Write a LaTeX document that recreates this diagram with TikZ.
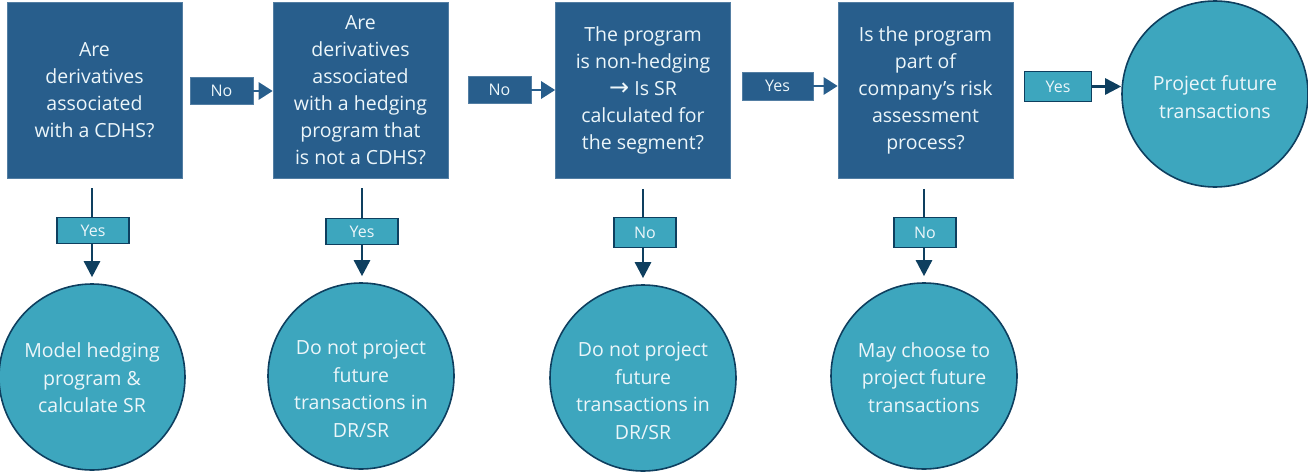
\documentclass[tikz,border=0pt]{standalone}
\usepackage{fontspec}
\setmainfont{Open Sans}
\newfontfamily\arrowfont{DejaVu Sans}
\usetikzlibrary{arrows.meta}
\definecolor{boxblue}{RGB}{40,94,140}
\definecolor{teal}{RGB}{61,166,190}
\definecolor{navy}{RGB}{14,63,95}
\definecolor{txt}{RGB}{236,246,250}
\tikzset{
  qbox/.style={draw=boxblue!80!white, line width=0.6pt, fill=boxblue, minimum width=175pt, minimum height=176pt, inner sep=0pt, text=txt, align=center, font=\fontsize{19.5}{27}\selectfont},
  endc/.style={circle, draw=navy, line width=1.6pt, fill=teal, minimum size=186pt, inner sep=0pt},
  ctext/.style={text=txt, align=center, font=\fontsize{19.5}{27.5}\selectfont},
  hlab/.style={fill=boxblue, draw=boxblue!80!white, line width=0.5pt, text=txt, inner sep=0pt, font=\fontsize{16}{18}\selectfont},
  vlab/.style={fill=teal, draw=navy, line width=1.6pt, text=txt, inner sep=0pt, font=\fontsize{16}{18}\selectfont},
  harrow/.style={draw=boxblue, line width=2.8pt, -{Triangle[width=17pt,length=14pt]}},
  darrow/.style={draw=navy, line width=2.6pt, -{Triangle[width=16pt,length=16pt]}},
  dline/.style={draw=navy, line width=2.6pt},
}
\begin{document}
\begin{tikzpicture}[x=1pt,y=-1pt]
\useasboundingbox (0,0) rectangle (1308,471);
% question boxes
\node[qbox] (b1) at (94.5,90) {Are\\derivatives\\associated\\with a CDHS?};
\node[qbox] (b2) at (360.5,90) {Are\\derivatives\\associated\\with a hedging\\program that\\is not a CDHS?};
\node[qbox] (b3) at (643,90.5) {The program\\is non-hedging\\{\arrowfont\fontsize{24}{27}\selectfont →} Is SR\\calculated for\\the segment?};
\node[qbox] (b4) at (925.5,90.5) {Is the program\\part of\\company's risk\\assessment\\process?};
% end circles
\node[endc] (c1) at (92,377) {};
\node[ctext] at (92,378) {Model hedging\\program \&\\calculate SR};
\node[endc] (c2) at (361,376) {};
\node[ctext] at (361,389) {Do not project\\future\\transactions in\\DR/SR};
\node[endc] (c3) at (643,378) {};
\node[ctext] at (643,391) {Do not project\\future\\transactions in\\DR/SR};
\node[endc] (c4) at (924,376) {};
\node[ctext] at (924,377.5) {May choose to\\project future\\transactions};
\node[endc] (c5) at (1215,94) {};
\node[ctext] at (1215,97) {Project future\\transactions};
% horizontal labels
\node[hlab, minimum width=63pt, minimum height=27pt] (n1) at (221.5,91) {No};
\node[hlab, minimum width=63pt, minimum height=27pt] (n2) at (499.5,90) {No};
\node[hlab, minimum width=71pt, minimum height=28pt] (y3) at (777.5,86) {Yes};
\node[vlab, minimum width=67pt, minimum height=30pt] (y4) at (1058,86.5) {Yes};
\draw[harrow] (n1.east) -- (n1.east -| b2.west);
\draw[harrow] (n2.east) -- (n2.east -| b3.west);
\draw[harrow] (y3.east) -- (y3.east -| b4.west);
\draw[darrow] (y4.east) -- (y4.east -| c5.west);
% vertical labels
\node[vlab, minimum width=72pt, minimum height=26pt] (v1) at (93,230.5) {Yes};
\node[vlab, minimum width=72pt, minimum height=26pt] (v2) at (362,231.5) {Yes};
\node[vlab, minimum width=62pt, minimum height=30pt] (v3) at (645,232.5) {No};
\node[vlab, minimum width=62pt, minimum height=30pt] (v4) at (925,232.5) {No};
\foreach \i/\x in {1/92,2/362,3/643,4/924}{
  \draw[dline, shorten <=10pt] (b\i.south -| \x,0) -- (v\i.north -| \x,0);
  \draw[darrow, shorten >=6pt] (v\i.south -| \x,0) -- (c\i.north -| \x,0);
}
\end{tikzpicture}
\end{document}
